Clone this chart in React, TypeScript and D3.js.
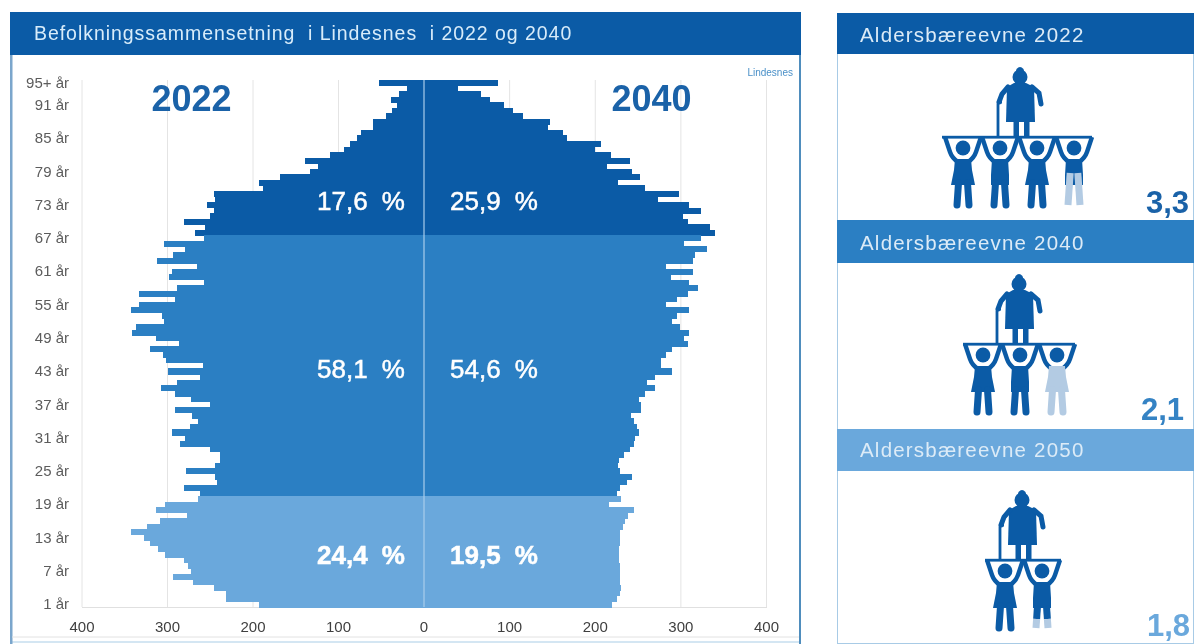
import React from "react";
import * as d3 from "d3";

// Ages run from the top of the pyramid (95+) to the bottom (1)
const ages: number[] = d3.range(95, 0, -1);

const values2022: number[] = [
  53, 20, 29, 39, 32, 38, 44, 60, 60, 74,
  78, 87, 94, 110, 139, 124, 133, 169, 193, 188,
  246, 244, 254, 246, 250, 281, 256, 268, 257, 304,
  280, 294, 312, 266, 295, 298, 257, 289, 333, 291,
  333, 343, 306, 304, 337, 341, 313, 286, 321, 305,
  302, 259, 299, 262, 289, 308, 291, 273, 250, 291,
  271, 264, 274, 295, 280, 285, 250, 239, 239, 244,
  278, 244, 242, 281, 262, 264, 303, 313, 277, 309,
  324, 343, 327, 320, 311, 303, 281, 276, 273, 294,
  270, 246, 232, 232, 193,
];

const values2040: number[] = [
  86, 40, 67, 77, 93, 104, 116, 147, 145, 162,
  167, 207, 200, 218, 240, 214, 243, 252, 227, 258,
  298, 273, 310, 324, 302, 308, 334, 340, 323, 304,
  330, 317, 314, 283, 314, 288, 310, 320, 308, 296,
  283, 310, 296, 290, 299, 310, 304, 308, 290, 283,
  277, 277, 290, 270, 261, 270, 258, 251, 253, 253,
  242, 245, 249, 251, 247, 245, 241, 233, 228, 226,
  229, 243, 237, 229, 225, 230, 216, 245, 238, 235,
  232, 229, 229, 229, 228, 228, 228, 229, 229, 229,
  229, 230, 229, 225, 220,
];

const ageLabels: [number, string][] = [
  [95, "95+ år"], [91, "91 år"], [85, "85 år"], [79, "79 år"], [73, "73 år"],
  [67, "67 år"], [61, "61 år"], [55, "55 år"], [49, "49 år"], [43, "43 år"],
  [37, "37 år"], [31, "31 år"], [25, "25 år"], [19, "19 år"], [13, "13 år"],
  [7, "7 år"], [1, "1 år"],
];

const xTicks: number[] = [0, 100, 200, 300, 400];
const shares2022: string[] = ["17,6 %", "58,1 %", "24,4 %"];
const shares2040: string[] = ["25,9 %", "54,6 %", "19,5 %"];

const DARK = "#0b5ba6";
const MID = "#2b7fc3";
const LIGHT = "#6aa8dc";
const PALE = "#b3cbe3";
const FONT = "'Liberation Sans', Arial, sans-serif";

const colourFor = (age: number) => (age >= 68 ? DARK : age >= 21 ? MID : LIGHT);

const y = d3.scaleBand<number>().domain(ages).range([80, 607]);
const xLeft = d3.scaleLinear().domain([0, 400]).range([424, 82]);
const xRight = d3.scaleLinear().domain([0, 400]).range([424, 766.5]);

function Elder({ x, base }: { x: number; base: number }) {
  return (
    <g transform={`translate(${x},${base})`} fill={DARK} stroke="none">
      <circle cx={0} cy={-60} r={7.5} />
      <path d="M-3.5,-68 Q0,-72 3.5,-68 L5,-62 L-5,-62 Z" />
      <path d="M-6,-54 L6,-54 L14,-50 L15,-15 L-14,-15 L-13,-50 Z" />
      <rect x={-6.5} y={-16} width={5.5} height={16} />
      <rect x={4} y={-16} width={5.5} height={16} />
      <path d="M12,-50 L19,-44 L21,-33" fill="none" stroke={DARK} strokeWidth={5} strokeLinecap="round" />
      <path d="M-12,-50 L-18,-43 L-21,-35" fill="none" stroke={DARK} strokeWidth={5} strokeLinecap="round" />
      <path d="M-22,0 L-22,-33 Q-22,-35 -18,-35" fill="none" stroke={DARK} strokeWidth={2.8} />
    </g>
  );
}

function Carrier({ x, base, skirt, legsFrom, bodyPale }: { x: number; base: number; skirt: boolean; legsFrom?: number; bodyPale?: boolean }) {
  const body = bodyPale ? PALE : DARK;
  const split = legsFrom ?? 68;
  const ratio = (split - 46) / 22;
  const lx = 4.5 + 1.5 * ratio;
  return (
    <g transform={`translate(${x},${base})`}>
      <circle cx={0} cy={11} r={7.4} fill={DARK} />
      <path d="M-18,0 L-13,15 Q-11,21 -5,25" fill="none" stroke={DARK} strokeWidth={4.4} />
      <path d="M18,0 L13,15 Q11,21 5,25" fill="none" stroke={DARK} strokeWidth={4.4} />
      <path
        d={skirt ? "M-8,22 L8,22 L9,33 L12,48 L-12,48 L-9,33 Z" : "M-8,22 L8,22 L9,38 L9,48 L-9,48 L-9,38 Z"}
        fill={body}
      />
      {split > 46 && (
        <g stroke={body} strokeWidth={7} strokeLinecap={legsFrom === undefined ? "round" : "butt"}>
          <path d={`M-4.5,46 L${-lx},${split}`} />
          <path d={`M4.5,46 L${lx},${split}`} />
        </g>
      )}
      {legsFrom !== undefined && (
        <g stroke={PALE} strokeWidth={7}>
          <path d={`M${-lx},${split} L-6,68`} />
          <path d={`M${lx},${split} L6,68`} />
        </g>
      )}
    </g>
  );
}

function Shelf({ x0, x1, yy }: { x0: number; x1: number; yy: number }) {
  return <rect x={x0} y={yy - 1.2} width={x1 - x0} height={2.8} fill={DARK} />;
}

export default function App() {
  return (
    <svg
      width={1200}
      height={644}
      viewBox="0 0 1200 644"
      style={{ position: "absolute", left: 0, top: 0, background: "#fff", filter: "blur(0.45px)" }}
      fontFamily={FONT}
    >
      {/* left panel frame */}
      <rect x={11} y={13} width={789} height={629} fill="#fff" stroke="#a9cde6" strokeWidth={1} />
      <rect x={10} y={13} width={2.5} height={631} fill="#7ba6cc" />
      <rect x={799} y={13} width={2} height={631} fill="#4f8dbd" />
      <line x1={12} x2={799} y1={637} y2={637} stroke="#e2e2e2" />
      <rect x={10} y={12} width={791} height={43} fill={DARK} />
      <text x={34} y={40} fontSize={19.5} fill="#d8ecfa" letterSpacing={0.95} style={{ whiteSpace: "pre" }}>
        Befolkningssammensetning  i Lindesnes  i 2022 og 2040
      </text>
      <text x={793} y={76} fontSize={10} fill="#4a90c8" textAnchor="end">Lindesnes</text>

      {/* grid */}
      {xTicks.map((t) => (
        <g key={t}>
          <line x1={xLeft(t)} x2={xLeft(t)} y1={80} y2={607} stroke="#e4e4e4" />
          <line x1={xRight(t)} x2={xRight(t)} y1={80} y2={607} stroke="#e4e4e4" />
        </g>
      ))}
      <line x1={82} x2={767} y1={607.5} y2={607.5} stroke="#e0e0e0" />

      {/* bars */}
      <g shapeRendering="crispEdges">
        {ages.map((a, i) => (
          <g key={a} fill={colourFor(a)}>
            <rect x={xLeft(values2022[i])} y={y(a)!} width={424 - xLeft(values2022[i])} height={y.bandwidth() + 0.5} />
            <rect x={424} y={y(a)!} width={xRight(values2040[i]) - 424} height={y.bandwidth() + 0.5} />
          </g>
        ))}
      </g>
      <line x1={424} x2={424} y1={80} y2={607} stroke="#a9cdeb" strokeWidth={1.2} />

      {/* axis labels */}
      {ageLabels.map(([a, s]) => (
        <text key={a} x={69} y={y(a)! + y.bandwidth() / 2 + 5} fontSize={15} fill="#5c5c5c" textAnchor="end">{s}</text>
      ))}
      {xTicks.map((t) => (
        <g key={t} fontSize={15} fill="#3f3f3f" textAnchor="middle">
          <text x={xRight(t)} y={632}>{t}</text>
          {t > 0 && <text x={xLeft(t)} y={632}>{t}</text>}
        </g>
      ))}

      {/* headline years */}
      <text x={191.5} y={111} fontSize={36} fontWeight="bold" fill="#1a62a8" textAnchor="middle">2022</text>
      <text x={651.5} y={111} fontSize={36} fontWeight="bold" fill="#1a62a8" textAnchor="middle">2040</text>

      {/* shares */}
      {[210, 378, 564].map((yy, i) => (
        <g key={yy} fontSize={26} fontWeight={i === 2 ? "bold" : "normal"} fill="#fff" textAnchor="middle" style={{ whiteSpace: "pre" }} wordSpacing={7}>
          <text x={361} y={yy} stroke="#fff" strokeWidth={0.5}>{shares2022[i]}</text>
          <text x={494} y={yy} stroke="#fff" strokeWidth={0.5}>{shares2040[i]}</text>
        </g>
      ))}

      {/* right panel frame */}
      <rect x={837.5} y={13.5} width={356} height={630} fill="#fff" stroke="#a8cbe6" />
      <rect x={837} y={13} width={357} height={41} fill={DARK} />
      <rect x={837} y={220} width={357} height={43} fill={MID} />
      <rect x={837} y={429} width={357} height={42} fill={LIGHT} />
      <g fontSize={20.5} fill="#dcebf7" letterSpacing={1.2} style={{ whiteSpace: "pre" }}>
        <text x={860} y={42}>Aldersbæreevne  2022</text>
        <text x={860} y={250}>Aldersbæreevne  2040</text>
        <text x={860} y={457}>Aldersbæreevne  2050</text>
      </g>

      {/* 2022 */}
      <Elder x={1020} base={137} />
      <Shelf x0={942} x1={1092} yy={137} />
      <Carrier x={963} base={137} skirt />
      <Carrier x={1000} base={137} skirt={false} />
      <Carrier x={1037} base={137} skirt />
      <Carrier x={1074} base={137} skirt={false} legsFrom={36} />
      <text x={1189} y={213} fontSize={31} fontWeight="bold" fill="#1a62a8" textAnchor="end">3,3</text>

      {/* 2040 */}
      <Elder x={1019} base={344} />
      <Shelf x0={963} x1={1075} yy={344} />
      <Carrier x={983} base={344} skirt />
      <Carrier x={1020} base={344} skirt={false} />
      <Carrier x={1057} base={344} skirt bodyPale />
      <text x={1184} y={420} fontSize={31} fontWeight="bold" fill="#3583c4" textAnchor="end">2,1</text>

      {/* 2050 */}
      <Elder x={1022} base={560} />
      <Shelf x0={985} x1={1061} yy={560} />
      <Carrier x={1005} base={560} skirt />
      <Carrier x={1042} base={560} skirt={false} legsFrom={59} />
      <text x={1190} y={636} fontSize={31} fontWeight="bold" fill="#6aa8dc" textAnchor="end">1,8</text>
    </svg>
  );
}
